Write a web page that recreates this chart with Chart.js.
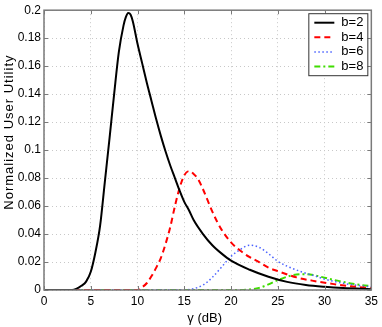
<!DOCTYPE html>
<html>
<head>
<meta charset="utf-8">
<script src="https://cdn.jsdelivr.net/npm/chart.js@4.4.1/dist/chart.umd.min.js"></script>
<style>
  html, body { margin: 0; padding: 0; background: #fff; }
  #wrap { width: 382px; height: 327px; }
</style>
</head>
<body>
<div id="wrap"><canvas id="utilChart" width="382" height="327"></canvas></div>
<script>
// gamma (dB) samples and utility values
const gammaB2 = [0, 3, 3.5, 4, 4.5, 5, 5.5, 6, 6.5, 7, 7.5, 8, 8.5, 8.75, 9, 9.25, 9.5, 10, 10.5, 11, 11.5, 12, 12.5, 13, 13.5, 14, 14.5, 15, 15.5, 16, 17, 18, 19, 20, 22, 24, 26, 28, 30, 32, 35];
const utilB2  = [0, 0, 0.001, 0.003, 0.006, 0.013, 0.027, 0.046, 0.077, 0.108, 0.14, 0.17, 0.189, 0.195, 0.198, 0.197, 0.192, 0.176, 0.162, 0.148, 0.135, 0.122, 0.11, 0.099, 0.089, 0.08, 0.071, 0.063, 0.057, 0.05, 0.04, 0.032, 0.026, 0.021, 0.0145, 0.0095, 0.0058, 0.0036, 0.0023, 0.0014, 0.0006];

const gammaB4 = [0, 10, 10.5, 11, 11.5, 12, 12.5, 13, 13.5, 14, 14.5, 15, 15.5, 16, 16.5, 17, 17.5, 18, 18.5, 19, 20, 21, 22, 23, 24, 25, 27, 29, 31, 33, 35];
const utilB4  = [0, 0, 0.002, 0.005, 0.01, 0.016, 0.023, 0.033, 0.045, 0.06, 0.073, 0.082, 0.085, 0.083, 0.079, 0.072, 0.064, 0.056, 0.049, 0.043, 0.034, 0.028, 0.0235, 0.02, 0.016, 0.0135, 0.009, 0.0063, 0.0042, 0.0025, 0.0012];

const gammaB6 = [0, 15, 16, 17, 18, 19, 20, 21, 22, 23, 24, 25, 26, 27, 28, 29, 30, 31, 32, 33, 34, 35];
const utilB6  = [0, 0, 0.001, 0.0035, 0.009, 0.0165, 0.024, 0.029, 0.032, 0.0305, 0.026, 0.0205, 0.017, 0.0143, 0.012, 0.01, 0.0078, 0.0062, 0.0048, 0.0037, 0.0029, 0.0023];

const gammaB8 = [0, 21, 22, 23, 24, 25, 26, 27, 28, 29, 30, 31, 32, 33, 34, 35];
const utilB8  = [0, 0, 0.0004, 0.0015, 0.004, 0.007, 0.0095, 0.011, 0.0113, 0.0104, 0.0088, 0.0072, 0.0058, 0.0045, 0.0035, 0.0027];

const seriesLabels = ['b=2', 'b=4', 'b=6', 'b=8'];
const xTicks = [0, 5, 10, 15, 20, 25, 30, 35];
const yTicks = [0, 0.02, 0.04, 0.06, 0.08, 0.1, 0.12, 0.14, 0.16, 0.18, 0.2];
const xTitle = 'γ (dB)';
const yTitle = 'Normalized User Utility';

const toPoints = (xs, ys) => xs.map((x, i) => ({ x: x, y: ys[i] }));

const FONT = 'Liberation Sans, Arial, Helvetica, sans-serif';

// MATLAB-like box, inward ticks, axis titles and legend in the upper right corner
const matlabFrame = {
    id: 'matlabFrame',
    afterDraw(chart) {
        const ctx = chart.ctx;
        const a = chart.chartArea;
        const xs = chart.scales.x, ys = chart.scales.y;
        ctx.save();
        ctx.strokeStyle = '#7a7a7a';
        ctx.lineWidth = 1;
        ctx.beginPath();
        xTicks.forEach(v => {
            const px = Math.round(xs.getPixelForValue(v)) + 0.5;
            ctx.moveTo(px, a.bottom); ctx.lineTo(px, a.bottom - 4);
            ctx.moveTo(px, a.top); ctx.lineTo(px, a.top + 4);
        });
        yTicks.forEach(v => {
            const py = Math.round(ys.getPixelForValue(v)) + 0.5;
            ctx.moveTo(a.left, py); ctx.lineTo(a.left + 4, py);
            ctx.moveTo(a.right, py); ctx.lineTo(a.right - 4, py);
        });
        ctx.stroke();
        ctx.lineWidth = 1.5;
        ctx.strokeRect(a.left, a.top, a.right - a.left, a.bottom - a.top);

        // axis titles
        ctx.fillStyle = '#000';
        ctx.font = '13px ' + FONT;
        ctx.textAlign = 'center';
        ctx.textBaseline = 'middle';
        ctx.fillText(xTitle, (a.left + a.right) / 2 - 3, 318);
        ctx.save();
        ctx.translate(9, (a.top + a.bottom) / 2 - 18);
        ctx.rotate(-Math.PI / 2);
        ctx.letterSpacing = '1px';
        ctx.fillText(yTitle, 0, 0);
        ctx.restore();

        // legend
        const bx = a.right - 63, by = a.top + 3, bw = 59, bh = 62;
        ctx.fillStyle = '#fff';
        ctx.fillRect(bx, by, bw, bh);
        ctx.strokeStyle = '#333';
        ctx.lineWidth = 1;
        ctx.strokeRect(bx + 0.5, by + 0.5, bw, bh);
        ctx.font = '13px ' + FONT;
        ctx.textAlign = 'left';
        chart.data.datasets.forEach((ds, i) => {
            const ry = by + 9.5 + i * 14.6;
            ctx.strokeStyle = ds.borderColor;
            ctx.lineWidth = ds.borderWidth;
            ctx.setLineDash(ds.borderDash || []);
            ctx.beginPath();
            ctx.moveTo(bx + 6, ry); ctx.lineTo(bx + 26, ry);
            ctx.stroke();
            ctx.setLineDash([]);
            ctx.fillStyle = '#000';
            ctx.fillText(ds.label, bx + 33, ry);
        });
        ctx.restore();
    }
};

const fmt = v => String(+Number(v).toFixed(2));

const ctx = document.getElementById('utilChart').getContext('2d');
new Chart(ctx, {
    type: 'line',
    data: {
        datasets: [
            { label: seriesLabels[0], data: toPoints(gammaB2, utilB2), borderColor: '#000000', borderWidth: 2, borderDash: [] },
            { label: seriesLabels[1], data: toPoints(gammaB4, utilB4), borderColor: '#ff0000', borderWidth: 2, borderDash: [6, 4] },
            { label: seriesLabels[2], data: toPoints(gammaB6, utilB6), borderColor: '#4a62ff', borderWidth: 1.5, borderDash: [1.5, 2.5] },
            { label: seriesLabels[3], data: toPoints(gammaB8, utilB8), borderColor: '#3fdc00', borderWidth: 2, borderDash: [6, 3, 2, 3] }
        ]
    },
    options: {
        responsive: false,
        animation: false,
        events: [],
        layout: { padding: { top: 10, right: 10, left: 0, bottom: 0 } },
        elements: {
            point: { radius: 0 },
            line: { cubicInterpolationMode: 'monotone', fill: false }
        },
        scales: {
            x: {
                type: 'linear',
                min: 0, max: 35,
                afterBuildTicks: s => { s.ticks = xTicks.map(v => ({ value: v })); },
                afterFit: s => { s.height = 37; },
                grid: { color: '#c8c8c8', drawTicks: false },
                border: { display: false, dash: [1, 3] },
                ticks: { color: '#000', padding: 4, font: { family: FONT, size: 12 }, callback: fmt }
            },
            y: {
                type: 'linear',
                min: 0, max: 0.2,
                afterBuildTicks: s => { s.ticks = yTicks.map(v => ({ value: v })); },
                afterFit: s => { s.width = 44; },
                grid: { color: '#c8c8c8', drawTicks: false },
                border: { display: false, dash: [1, 3] },
                ticks: { color: '#000', padding: 3, font: { family: FONT, size: 12 }, callback: fmt }
            }
        },
        plugins: {
            legend: { display: false },
            tooltip: { enabled: false }
        }
    },
    plugins: [matlabFrame]
});
</script>
</body>
</html>
